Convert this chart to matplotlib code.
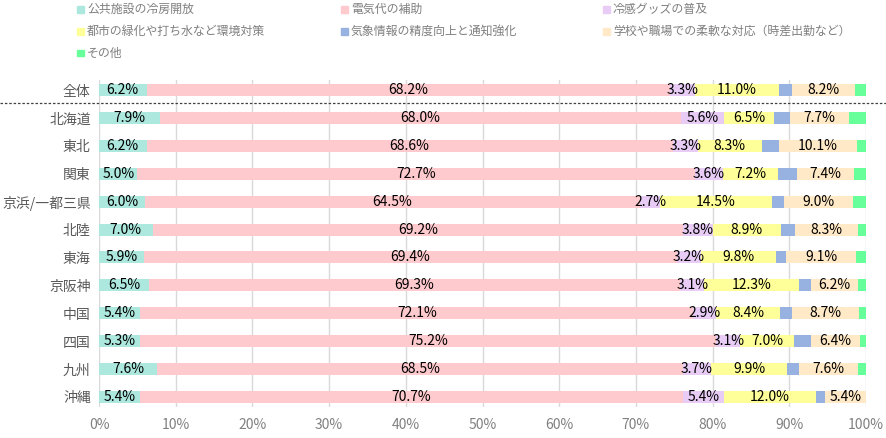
import matplotlib
matplotlib.use("Agg")
import matplotlib.pyplot as plt
from matplotlib.patches import Rectangle
from matplotlib.lines import Line2D
import numpy as np

plt.rcParams['font.family'] = ['Noto Sans CJK JP', 'DejaVu Sans']

categories = ["全体", "北海道", "東北", "関東", "京浜/一都三県", "北陸", "東海",
              "京阪神", "中国", "四国", "九州", "沖縄"]

series_names = ["公共施設の冷房開放", "電気代の補助", "冷感グッズの普及",
                "都市の緑化や打ち水など環境対策", "気象情報の精度向上と通知強化",
                "学校や職場での柔軟な対応（時差出勤など）", "その他"]

public_cooling = [6.2, 7.9, 6.2, 5.0, 6.0, 7.0, 5.9, 6.5, 5.4, 5.3, 7.6, 5.4]
electricity    = [68.2, 68.0, 68.6, 72.7, 64.5, 69.2, 69.4, 69.3, 72.1, 75.2, 68.5, 70.7]
cooling_goods  = [3.3, 5.6, 3.3, 3.6, 2.7, 3.8, 3.2, 3.1, 2.9, 3.1, 3.7, 5.4]
greening       = [11.0, 6.5, 8.3, 7.2, 14.5, 8.9, 9.8, 12.3, 8.4, 7.0, 9.9, 12.0]
weather_info   = [1.7, 2.1, 2.3, 2.5, 1.6, 1.8, 1.3, 1.6, 1.6, 2.2, 1.6, 1.1]
flexible       = [8.2, 7.7, 10.1, 7.4, 9.0, 8.3, 9.1, 6.2, 8.7, 6.4, 7.6, 5.4]
other          = [1.4, 2.2, 1.2, 1.6, 1.7, 1.0, 1.3, 1.0, 0.9, 0.8, 1.1, 0.0]

series = [public_cooling, electricity, cooling_goods, greening, weather_info, flexible, other]
colors = ["#ADE8DE", "#FFCACE", "#E8CCF5", "#FFFF99", "#97B2E0", "#FFE9C6", "#66FF99"]
show_label = [True, True, True, True, False, True, False]

tick_vals = list(range(0, 101, 10))
tick_labels = [f"{v}%" for v in tick_vals]

W, H = 886, 438
fig = plt.figure(figsize=(W / 100, H / 100), dpi=100)
ax = fig.add_axes([99 / W, 1 - 407 / H, (866 - 99) / W, (407 - 80) / H])

y = np.arange(len(categories))
left = np.zeros(len(categories))
for vals, col, lab in zip(series, colors, show_label):
    vals = np.array(vals)
    ax.barh(y, vals, left=left, height=0.43, color=col, zorder=2)
    if lab:
        for yi, (l, v) in enumerate(zip(left, vals)):
            ax.text(l + v / 2, yi, f"{v:.1f}%", ha="center", va="center",
                    fontsize=10, color="#000000", zorder=3)
    left += vals

ax.set_xlim(0, 100)
ax.set_ylim(11.36, -0.36)
ax.set_xticks(tick_vals)
ax.set_xticklabels(tick_labels, fontsize=10, color="#808080")
ax.set_yticks(y)
ax.set_yticklabels(categories, fontsize=10, color="#595959")
ax.tick_params(length=0, pad=6)
ax.tick_params(axis="x", pad=8)
for s in ax.spines.values():
    s.set_visible(False)
ax.grid(axis="x", color="#D9D9D9", lw=1, zorder=0)
ax.set_axisbelow(True)

# dotted separator between 全体 and regions
fig.add_artist(Line2D([0, 1], [1 - 103 / H, 1 - 103 / H], transform=fig.transFigure,
                      color="#404040", lw=0.9, linestyle=(0, (2, 1.5))))

# legend (manual layout)
col_x = [80, 344, 606]
row_y = [9.5, 31.5, 53.3]
for i, (name, col) in enumerate(zip(series_names, colors)):
    cx = col_x[i % 3]
    ry = row_y[i // 3]
    fig.add_artist(Rectangle(((cx - 3) / W, 1 - (ry + 3) / H), 6.5 / W, 6.5 / H,
                             transform=fig.transFigure, color=col))
    fig.text((cx + 7) / W, 1 - ry / H, name, ha="left", va="center",
             fontsize=8.6, color="#7F7F7F")

fig.savefig("out.png", dpi=100)
